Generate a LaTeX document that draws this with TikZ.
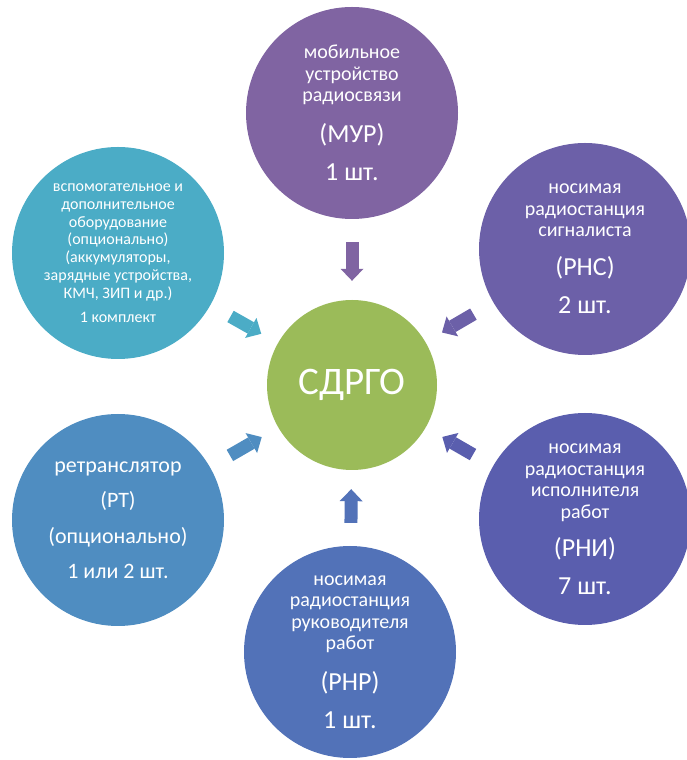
\documentclass[tikz,border=0pt]{standalone}
\usepackage{fontspec}
\setmainfont{Carlito}
\usetikzlibrary{arrows.meta}

\definecolor{cCenter}{HTML}{9BBB59}
\definecolor{cMur}{HTML}{8064A2}
\definecolor{cRns}{HTML}{6C60A8}
\definecolor{cRni}{HTML}{5A5EAE}
\definecolor{cRnr}{HTML}{5272B8}
\definecolor{cRt}{HTML}{4F8DC1}
\definecolor{cAux}{HTML}{4BACC6}

\newcommand{\bigtxt}[1]{{\fontsize{26}{26}\selectfont #1}}

\begin{document}
\begin{tikzpicture}[x=1pt, y=1pt,
    sat/.style={circle, minimum size=212pt, inner sep=0pt, text=white, align=center,
      font={\fontsize{20}{21.5}\selectfont\lineskiplimit=-50pt}},
    toc/.style={line width=13pt, -{Triangle[length=12pt, width=23pt, line width=0pt]},
      shorten <=23pt, shorten >=19pt}]
        \useasboundingbox (0,0) rectangle (687,760);

        % центр
        \node[circle, minimum size=170pt, inner sep=0pt, fill=cCenter, text=white,
          font=\fontsize{39}{39}\selectfont] (cen) at (352,375) {СДРГО};

        % окружающие устройства
        \node[sat, fill=cMur] (mur) at (352,647)
          {мобильное\\устройство\\радиосвязи\\[19pt]\bigtxt{(МУР)}\\[17pt]\bigtxt{1 шт.}};
        \node[sat, fill=cRns] (rns) at (585,511)
          {носимая\\радиостанция\\сигналиста\\[17pt]\bigtxt{(РНС)}\\[17pt]\bigtxt{2 шт.}};
        \node[sat, fill=cRni] (rni) at (585,241)
          {носимая\\радиостанция\\исполнителя\\работ\\[17pt]\bigtxt{(РНИ)}\\[16pt]\bigtxt{7 шт.}};
        \node[sat, fill=cRnr] (rnr) at (350,108)
          {носимая\\радиостанция\\руководителя\\работ\\[19pt]\bigtxt{(РНР)}\\[17pt]\bigtxt{1 шт.}};
        \node[sat, fill=cRt, font={\fontsize{22}{35.5}\selectfont}] (rt) at (118,240)
          {ретранслятор\\(РТ)\\(опционально)\\1 или 2 шт.};
        \node[sat, fill=cAux, font={\fontsize{16}{17.8}\selectfont\lineskiplimit=-50pt}] (aux) at (118,507)
          {вспомогательное и\\дополнительное\\оборудование\\(опционально)\\(аккумуляторы,\\зарядные устройства,\\КМЧ, ЗИП и др.)\\[6pt]1 комплект};

        % стрелки к центру
        \draw[toc, cMur] (mur) -- (cen);
        \draw[toc, cRns] (rns) -- (cen);
        \draw[toc, cRni] (rni) -- (cen);
        \draw[toc, cRnr] (rnr) -- (cen);
        \draw[toc, cRt] (rt) -- (cen);
        \draw[toc, cAux] (aux) -- (cen);
\end{tikzpicture}
\end{document}
